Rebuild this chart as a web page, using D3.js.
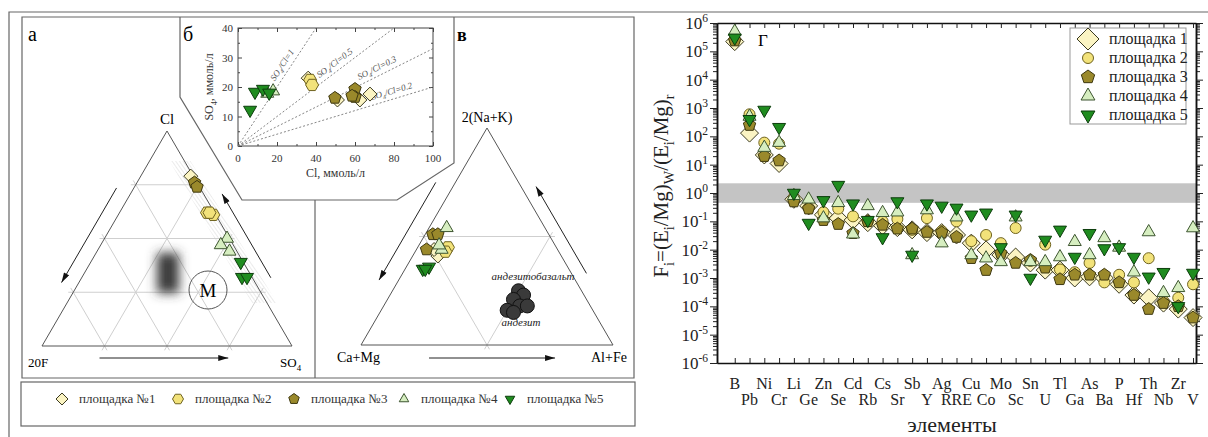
<!DOCTYPE html>
<html>
<head>
<meta charset="utf-8">
<script src="https://cdn.jsdelivr.net/npm/d3@7"></script>
<style>
  body { margin: 0; background: #fff; }
  svg { display: block; }
  text { font-family: "Liberation Serif", "Times New Roman", serif; }
</style>
</head>
<body>
<svg id="fig" width="1208" height="437"></svg>
<script>
// ---------------- data ----------------
const siteNames = ["площадка 1", "площадка 2", "площадка 3", "площадка 4", "площадка 5"];
const siteNamesLeft = ["площадка №1", "площадка №2", "площадка №3", "площадка №4", "площадка №5"];

const elements = ["B","Pb","Ni","Cr","Li","Ge","Zn","Se","Cd","Rb","Cs","Sr","Sb","Y","Ag","RRE",
                  "Cu","Co","Mo","Sc","Sn","U","Tl","Ga","As","Ba","P","Hf","Th","Nb","Zr","V"];

// F_i per element, one array per site (panel Г)
const fSite1 = [2.2e5, 130, 22, 11, 0.6, 0.35, 0.17, 0.13, 0.11, 0.09, 0.07, 0.06, 0.05, 0.04, 0.04, 0.033,
                0.017, 0.0098, 0.0065, 0.0055, 0.0034, 0.0019, 0.0019, 0.001, 0.0011, 0.001, 0.0006, 0.00025, 0.0002, 0.00013, 0.00008, 0.00004];
const fSite2 = [2.6e5, 600, 60, 55, 0.7, 0.3, 0.21, 0.28, 0.15, 0.1, 0.1, 0.12, 0.05, 0.13, 0.045, 0.1,
                0.02, 0.033, 0.017, 0.058, 0.004, 0.015, 0.002, 0.0016, 0.0034, 0.0007, 0.0013, 0.0007, 0.005, 0.00015, 0.0002, 0.0006];
const fSite3 = [2.4e5, 250, 20, 14, 0.5, 0.28, 0.11, 0.08, 0.038, 0.1, 0.075, 0.055, 0.055, 0.042, 0.04, 0.028,
                0.005, 0.0019, 0.0075, 0.0034, 0.0043, 0.0023, 0.0009, 0.0013, 0.0013, 0.0013, 0.0007, 0.00025, 0.00008, 0.00013, 0.0001, 0.00004];
const fSite4 = [5e5, 500, 40, 60, 0.8, 0.6, 0.13, 0.45, 0.035, 0.35, 0.2, 0.21, 0.0065, 0.25, 0.017, 0.14,
                0.0065, 0.005, 0.0037, 0.14, 0.0037, 0.0037, 0.0055, 0.019, 0.0065, 0.026, 0.012, 0.0016, 0.042, 0.0003, 0.00045, 0.058];
const fSite5 = [3e5, 400, 850, 210, 1.0, 0.087, 0.55, 1.9, 0.42, 0.11, 0.027, 0.5, 0.0065, 0.42, 0.35, 0.3,
                0.17, 0.2, 0.012, 0.17, 0.001, 0.022, 0.05, 0.0055, 0.038, 0.011, 0.012, 0.0055, 0.0011, 0.0016, 0.0001, 0.0015];
const bandLow = 0.45, bandHigh = 2.2;
const yDecades = d3.range(-6, 7);

// panel б: [Cl, SO4] mmol/l
const so4ClSite1 = [[36, 23], [51, 15.6], [62.5, 15.6], [67.7, 17.6]];
const so4ClSite2 = [[37, 22.4], [38, 20.7]];
const so4ClSite3 = [[49.7, 16.3], [60, 19.3], [60, 16.6], [58.5, 17]];
const so4ClSite4 = [[15, 17.8], [18, 18.6]];
const so4ClSite5 = [[6.2, 12.2], [8.7, 18.3], [12.8, 19.3], [16, 18]];
const ratioLines = [1, 0.5, 0.33, 0.2];
const ratioLabels = ["1", "0.5", "0.3", "0.2"];
const ratioLabelAt = [26, 52, 73, 80];   // Cl value where each label sits

// panel а: [Cl %, SO4 %] (20F is the rest)
const anionSite1 = [[79, 20]];
const anionSite2 = [[62, 35], [61, 38], [62, 36]];
const anionSite3 = [[76, 23], [74, 25]];
const anionSite4 = [[50, 49], [47, 48], [44, 53]];
const anionSite5 = [[39, 60], [32, 64], [32, 66]];

// panel в: [2(Na+K) %, Al+Fe %] (Ca+Mg is the rest)
const cationSite1 = [[41, 10], [44, 7]];
const cationSite2 = [[45, 12], [43, 12]];
const cationSite3 = [[51, 3], [51, 5], [44, 4]];
const cationSite4 = [[54, 7], [44, 10], [46, 8]];
const cationSite5 = [[35, 7], [36, 9], [35, 8]];
const andesite = [[25, 50], [23, 53], [21, 50], [18, 54], [16, 50], [15, 53], [18, 57]];

// ---------------- styles ----------------
const fSeries = [fSite1, fSite2, fSite3, fSite4, fSite5];
const so4Series = [so4ClSite1, so4ClSite2, so4ClSite3, so4ClSite4, so4ClSite5];
const anionSeries = [anionSite1, anionSite2, anionSite3, anionSite4, anionSite5];
const cationSeries = [cationSite1, cationSite2, cationSite3, cationSite4, cationSite5];

const fills = ["#fbf4c3", "#f2e27a", "#9a892b", "#d6eec0", "#1f8c1f"];
const strokes = ["#3b3a20", "#6f6320", "#3e3810", "#3d5530", "#0d3d0d"];
const shapesRight = ["diamond", "circle", "pentagon", "triUp", "triDown"];
const shapesLeft = ["diamond", "hexagon", "pentagon", "triUp", "triDown"];
const sizesRight = [9, 5.5, 6.5, 7.5, 7.5];
const sizesLeft = [7, 6.5, 6.5, 7.5, 7.5];

const svg = d3.select("#fig");

function markerPath(type, r) {
  const poly = (n, rot) => d3.range(n).map(i => {
    const a = rot + i * 2 * Math.PI / n;
    return [r * Math.cos(a), r * Math.sin(a)];
  });
  let pts;
  if (type === "circle") return d3.symbol(d3.symbolCircle, Math.PI * r * r)();
  if (type === "diamond") pts = poly(4, -Math.PI / 2);
  if (type === "hexagon") pts = poly(6, 0);
  if (type === "pentagon") pts = poly(5, -Math.PI / 2);
  if (type === "triUp") pts = poly(3, -Math.PI / 2);
  if (type === "triDown") pts = poly(3, Math.PI / 2);
  return "M" + pts.map(p => p[0].toFixed(2) + "," + p[1].toFixed(2)).join("L") + "Z";
}

function drawMarks(g, pts, type, r, i) {
  g.append("g").selectAll("path")
    .data(pts)
    .join("path")
      .attr("transform", d => `translate(${d[0]},${d[1]})`)
      .attr("d", markerPath(type, r))
      .attr("fill", fills[i])
      .attr("stroke", strokes[i])
      .attr("stroke-width", 1);
}

function rich(sel, parts, size, start) {
  let cur = -(start || 0);
  parts.forEach(([t, s]) => {
    const off = s === "sub" ? size * 0.3 : s === "sup" ? -size * 0.42 : 0;
    sel.append("tspan").attr("dy", off - cur).attr("font-size", s ? size * 0.68 : size).text(t);
    cur = off;
  });
}

// ---------------- frames (left figure) ----------------
const defs = svg.append("defs");
defs.append("marker").attr("id", "arrow")
    .attr("viewBox", "0 0 10 6").attr("refX", 10).attr("refY", 3)
    .attr("markerWidth", 11).attr("markerHeight", 6).attr("markerUnits", "userSpaceOnUse")
    .attr("orient", "auto")
  .append("path").attr("d", "M0,0 L10,3 L0,6 Z").attr("fill", "#111");
const hatch = defs.append("pattern").attr("id", "hatch")
    .attr("width", 3).attr("height", 3).attr("patternUnits", "userSpaceOnUse")
    .attr("patternTransform", "rotate(-35)");
hatch.append("line").attr("x1", 0).attr("y1", 0).attr("x2", 0).attr("y2", 3)
    .attr("stroke", "#dadada").attr("stroke-width", 1.1);
defs.append("filter").attr("id", "soft").attr("x", "-80%").attr("y", "-80%").attr("width", "260%").attr("height", "260%")
  .append("feGaussianBlur").attr("stdDeviation", 5.5);

const frame = svg.append("g").attr("fill", "none").attr("stroke", "#666").attr("stroke-width", 1.2);
frame.append("path").attr("d", "M9,437 V12 H1208");
frame.append("path").attr("d", "M22,378 V17 H634 V378 Z");
frame.append("path").attr("d", "M180,17 V97 L242,200 H397 L454,163 V17");
frame.append("path").attr("d", "M315,200 V378");
frame.append("rect").attr("x", 21).attr("y", 382).attr("width", 614).attr("height", 44);

svg.append("text").attr("x", 28).attr("y", 41).attr("font-size", 20).text("а");
svg.append("text").attr("x", 183).attr("y", 41).attr("font-size", 20).text("б");
svg.append("text").attr("x", 457).attr("y", 41).attr("font-size", 18).attr("font-weight", "bold").text("в");

// ---------------- ternary helpers ----------------
function ternary(left, baseY, width, height) {
  const h = d3.scaleLinear().domain([0, 100]).range([baseY, baseY - height]);
  const w = d3.scaleLinear().domain([0, 100]).range([0, width]);
  return (top, right) => [left + w(right) + w(top) / 2, h(top)];
}
function drawTernaryFrame(g, proj, fractions, ext) {
  const seg = (a, b, e) => {
    const dx = b[0] - a[0], dy = b[1] - a[1], L = Math.hypot(dx, dy);
    return [[a[0] - dx / L * e, a[1] - dy / L * e], [b[0] + dx / L * e, b[1] + dy / L * e]];
  };
  const lines = [];
  fractions.forEach(f => {
    lines.push(seg(proj(f, 0), proj(f, 100 - f), ext));
    lines.push(seg(proj(0, f), proj(100 - f, f), ext));
    lines.push(seg(proj(0, 100 - f), proj(100 - f, 0), ext));
  });
  g.append("g").selectAll("line").data(lines).join("line")
    .attr("x1", d => d[0][0]).attr("y1", d => d[0][1])
    .attr("x2", d => d[1][0]).attr("y2", d => d[1][1])
    .attr("stroke", "#cfcfcf").attr("stroke-width", 1);
  const v = [proj(100, 0), proj(0, 0), proj(0, 100)];
  g.append("path").attr("d", "M" + v.join("L") + "Z")
    .attr("fill", "none").attr("stroke", "#555").attr("stroke-width", 1);
  return v;
}
function edgeArrow(g, a, b, t1, t2, off) {
  const dx = b[0] - a[0], dy = b[1] - a[1], L = Math.hypot(dx, dy);
  const nx = -dy / L, ny = dx / L;
  const p = t => [a[0] + dx * t + nx * off, a[1] + dy * t + ny * off];
  const p1 = p(t1), p2 = p(t2);
  g.append("line").attr("x1", p1[0]).attr("y1", p1[1]).attr("x2", p2[0]).attr("y2", p2[1])
    .attr("stroke", "#222").attr("stroke-width", 1).attr("marker-end", "url(#arrow)");
}

// ---------------- panel а ----------------
const gA = svg.append("g");
const projA = ternary(42, 346, 250, 215);
gA.append("path").attr("d", "M" + [projA(86, 8), projA(20, 74), [projA(20, 80)[0] + 10, projA(20, 80)[1]], [projA(86, 14)[0] + 6, projA(86, 14)[1]]].join("L") + "Z")
  .attr("fill", "url(#hatch)");
const vA = drawTernaryFrame(gA, projA, [25, 50, 75], 5);
gA.append("rect").attr("x", 157).attr("y", 253).attr("width", 22).attr("height", 40)
  .attr("fill", "#3a3a3a").attr("filter", "url(#soft)");
gA.append("circle").attr("cx", 208).attr("cy", 290).attr("r", 19).attr("fill", "none").attr("stroke", "#555");
gA.append("text").attr("x", 208).attr("y", 297).attr("text-anchor", "middle").attr("font-size", 19).text("M");
edgeArrow(gA, vA[0], vA[1], 0.3, 0.74, 15);
edgeArrow(gA, vA[2], vA[0], 0.28, 0.67, 16);
edgeArrow(gA, vA[1], vA[2], 0.23, 0.745, 12);
gA.append("text").attr("x", vA[0][0]).attr("y", vA[0][1] - 7).attr("text-anchor", "middle").attr("font-size", 15).text("Cl");
gA.append("text").attr("x", vA[1][0] - 14).attr("y", vA[1][1] + 21).attr("font-size", 13).text("20F");
rich(gA.append("text").attr("x", vA[2][0] - 12).attr("y", vA[2][1] + 21), [["SO", 0], ["4", "sub"]], 13);
anionSeries.forEach((pts, i) => drawMarks(gA, pts.map(d => projA(d[0], d[1])), shapesLeft[i], sizesLeft[i], i));

// ---------------- panel б ----------------
const gB = svg.append("g");
const xB = d3.scaleLinear().domain([0, 100]).range([238, 433]);
const yB = d3.scaleLinear().domain([0, 40]).range([146, 28]);
gB.append("rect").attr("x", 238).attr("y", 28).attr("width", 195).attr("height", 118)
  .attr("fill", "none").attr("stroke", "#444").attr("stroke-width", 1);
const tickB = (axis, vals, size) => axis.tickValues(vals).tickSizeInner(size).tickSizeOuter(0).tickFormat("");
gB.append("g").attr("transform", "translate(0,146)").call(tickB(d3.axisBottom(xB), d3.range(0, 101, 20), -4));
gB.append("g").attr("transform", "translate(0,146)").call(tickB(d3.axisBottom(xB), d3.range(10, 100, 20), -2));
gB.append("g").attr("transform", "translate(0,28)").call(tickB(d3.axisTop(xB), d3.range(0, 101, 20), -4));
gB.append("g").attr("transform", "translate(0,28)").call(tickB(d3.axisTop(xB), d3.range(10, 100, 20), -2));
gB.append("g").attr("transform", "translate(238,0)").call(tickB(d3.axisLeft(yB), d3.range(0, 41, 10), -4));
gB.append("g").attr("transform", "translate(238,0)").call(tickB(d3.axisLeft(yB), d3.range(5, 40, 10), -2));
gB.append("g").attr("transform", "translate(433,0)").call(tickB(d3.axisRight(yB), d3.range(0, 41, 10), -4));
gB.append("g").attr("transform", "translate(433,0)").call(tickB(d3.axisRight(yB), d3.range(5, 40, 10), -2));
gB.selectAll(".domain").remove();
gB.selectAll(".tick line").attr("stroke", "#444");
gB.append("g").selectAll("text").data(d3.range(0, 101, 20)).join("text")
  .attr("x", d => xB(d)).attr("y", 162).attr("text-anchor", "middle").attr("font-size", 11).attr("fill", "#333").text(d => d);
gB.append("g").selectAll("text").data(d3.range(0, 41, 10)).join("text")
  .attr("x", 233).attr("y", d => yB(d) + 4).attr("text-anchor", "end").attr("font-size", 11).attr("fill", "#333").text(d => d);
gB.append("text").attr("x", xB(50)).attr("y", 177).attr("text-anchor", "middle").attr("font-size", 12).attr("fill", "#333").text("Cl, ммоль/л");
rich(gB.append("text").attr("transform", `translate(213,${yB(20)}) rotate(-90)`).attr("text-anchor", "middle").attr("fill", "#333"),
     [["SO", 0], ["4", "sub"], [", ммоль/л", 0]], 12);
ratioLines.forEach((k, j) => {
  const xEnd = Math.min(100, 40 / k);
  gB.append("line").attr("x1", xB(0)).attr("y1", yB(0)).attr("x2", xB(xEnd)).attr("y2", yB(xEnd * k))
    .attr("stroke", "#777").attr("stroke-width", 0.9).attr("stroke-dasharray", "2,2");
  const c = ratioLabelAt[j];
  const ang = Math.atan2(yB(k * c) - yB(0), xB(c) - xB(0)) * 180 / Math.PI;
  const t = gB.append("text").attr("transform", `translate(${xB(c)},${yB(k * c)}) rotate(${ang})`)
    .attr("text-anchor", "middle").attr("font-style", "italic").attr("fill", "#555");
  rich(t, [["SO", 0], ["4", "sub"], ["/Cl=" + ratioLabels[j], 0]], 9, -5);
});
so4Series.forEach((pts, i) => drawMarks(gB, pts.map(d => [xB(d[0]), yB(d[1])]), shapesLeft[i], sizesLeft[i], i));

// ---------------- panel в ----------------
const gC = svg.append("g");
const projC = ternary(361, 345, 252, 217);
const vC = drawTernaryFrame(gC, projC, [50], 5);
edgeArrow(gC, vC[0], vC[1], 0.29, 0.74, 17);
edgeArrow(gC, vC[2], vC[0], 0.3, 0.7, 13);
edgeArrow(gC, vC[1], vC[2], 0.27, 0.77, 13);
gC.append("text").attr("x", vC[0][0]).attr("y", vC[0][1] - 6).attr("text-anchor", "middle").attr("font-size", 14).text("2(Na+K)");
gC.append("text").attr("x", vC[1][0] - 24).attr("y", vC[1][1] + 17).attr("font-size", 14).text("Ca+Mg");
gC.append("text").attr("x", vC[2][0] - 22).attr("y", vC[2][1] + 17).attr("font-size", 14).text("Al+Fe");
gC.append("g").selectAll("circle").data(andesite).join("circle")
  .attr("cx", d => projC(d[0], d[1])[0]).attr("cy", d => projC(d[0], d[1])[1]).attr("r", 7)
  .attr("fill", "#3a3a3a").attr("stroke", "#111").attr("stroke-width", 1);
gC.append("text").attr("x", 533).attr("y", 280).attr("text-anchor", "middle").attr("font-size", 11)
  .attr("font-style", "italic").attr("fill", "#222").text("андезитобазальт");
gC.append("text").attr("x", 521).attr("y", 326).attr("text-anchor", "middle").attr("font-size", 11)
  .attr("font-style", "italic").attr("fill", "#222").text("андезит");
cationSeries.forEach((pts, i) => drawMarks(gC, pts.map(d => projC(d[0], d[1])), shapesLeft[i], sizesLeft[i], i));

// ---------------- left legend ----------------
const legL = svg.append("g");
const legLX = [62, 178, 294, 404, 510];
siteNamesLeft.forEach((name, i) => {
  drawMarks(legL, [[legLX[i], 399]], shapesLeft[i], i === 0 ? 6 : 5.5, i);
  legL.append("text").attr("x", legLX[i] + 17).attr("y", 403).attr("font-size", 13).attr("fill", "#333").text(name);
});

// ---------------- panel Г ----------------
const gD = svg.append("g");
const xF = d3.scaleLinear().domain([-1.2, 31.2]).range([717, 1196]);
const yF = d3.scaleLog().domain([1e-6, 1e6]).range([363, 23]);
const minorF = [];
yDecades.slice(0, -1).forEach(e => d3.range(2, 10).forEach(m => minorF.push(m * Math.pow(10, e))));
const decadeVals = yDecades.map(e => Math.pow(10, e));

gD.append("rect").attr("x", 717).attr("y", yF(bandHigh)).attr("width", 1196 - 717)
  .attr("height", yF(bandLow) - yF(bandHigh)).attr("fill", "#c4c4c4");

const ax = (a, vals, size) => a.tickValues(vals).tickSizeInner(size).tickSizeOuter(0).tickFormat("");
gD.append("g").attr("transform", "translate(717,0)").call(ax(d3.axisLeft(yF), minorF, 4));
gD.append("g").attr("transform", "translate(717,0)").call(ax(d3.axisLeft(yF), decadeVals, 7));
gD.append("g").attr("transform", "translate(1196,0)").call(ax(d3.axisRight(yF), minorF, 4));
gD.append("g").attr("transform", "translate(1196,0)").call(ax(d3.axisRight(yF), decadeVals, 7));
gD.append("g").attr("transform", "translate(0,363)").call(ax(d3.axisBottom(xF), d3.range(elements.length), -5));
gD.append("g").attr("transform", "translate(0,23)").call(ax(d3.axisTop(xF), d3.range(elements.length), -5));
gD.selectAll(".domain").attr("stroke", "#111").attr("stroke-width", 1.5);
gD.selectAll(".tick line").attr("stroke", "#222");

yDecades.forEach(e => {
  rich(gD.append("text").attr("x", 708).attr("y", yF(Math.pow(10, e)) + 6).attr("text-anchor", "end").attr("fill", "#222"),
       [["10", 0], [String(e), "sup"]], 17);
});
gD.append("g").selectAll("text").data(elements).join("text")
  .attr("x", (d, i) => xF(i)).attr("y", (d, i) => i % 2 === 0 ? 389 : 405)
  .attr("text-anchor", "middle").attr("font-size", 16).attr("fill", "#222").text(d => d);
gD.append("text").attr("x", 952).attr("y", 432).attr("text-anchor", "middle")
  .attr("font-family", "'Liberation Sans', Arial, sans-serif").attr("font-size", 22).attr("fill", "#222").text("элементы");
rich(gD.append("text").attr("transform", "translate(668,186) rotate(-90)").attr("text-anchor", "middle").attr("fill", "#222"),
     [["F", 0], ["i", "sub"], ["=(E", 0], ["i", "sub"], ["/Mg)", 0], ["W", "sub"], ["/(E", 0], ["i", "sub"], ["/Mg)", 0], ["r", "sub"]], 21);
gD.append("text").attr("x", 758).attr("y", 46).attr("font-size", 17).text("Г");

fSeries.forEach((vals, i) => drawMarks(gD, vals.map((v, j) => [xF(j), yF(v)]), shapesRight[i], sizesRight[i], i));

// legend Г
const legR = gD.append("g");
legR.append("rect").attr("x", 1070).attr("y", 28).attr("width", 116).attr("height", 96)
  .attr("fill", "#fff").attr("stroke", "#999").attr("stroke-width", 1);
siteNames.forEach((name, i) => {
  const y = 39 + i * 19;
  drawMarks(legR, [[1088, y]], shapesRight[i], [11, 5.5, 7, 8, 8][i], i);
  legR.append("text").attr("x", 1109).attr("y", y + 5).attr("font-size", 16).attr("fill", "#222").text(name);
});
</script>
</body>
</html>
